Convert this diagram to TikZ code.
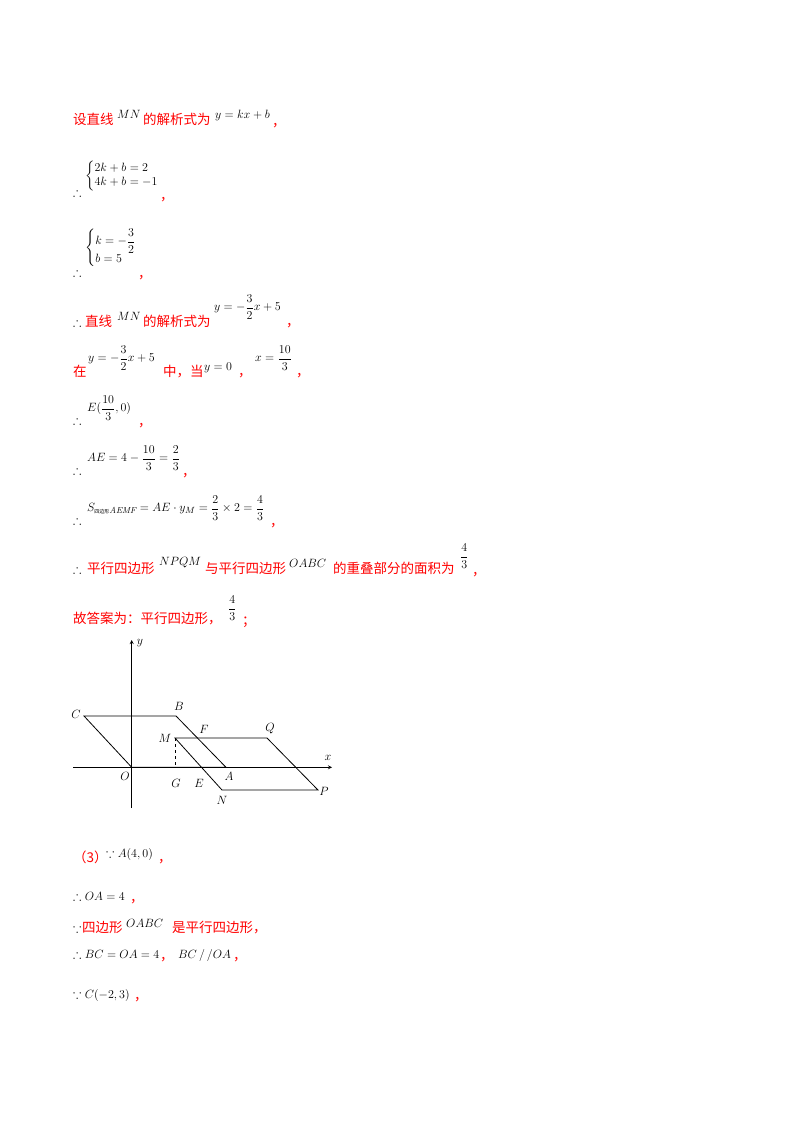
\documentclass[tikz,border=0pt]{standalone}
\usepackage{amsmath,amssymb}
\usepackage{fontspec}
\newfontfamily\cjk{Noto Sans CJK SC}
\begin{document}
\begin{tikzpicture}[x=1pt,y=-1pt,
  tx/.style={anchor=base west,inner sep=0pt,text=red,font=\cjk\fontsize{13.5}{15}\selectfont},
  mx/.style={anchor=base west,inner sep=0pt,text=black,font=\fontsize{12.5}{14}\selectfont},
  mc/.style={anchor=west,inner sep=0pt,text=black,font=\fontsize{12.5}{14}\selectfont},
  lbl/.style={inner sep=1pt,font=\fontsize{12.5}{14}\selectfont\itshape},
  ln/.style={line width=0.8pt}]
\useasboundingbox (0,0) rectangle (800,1132);
% line 1
\node[tx] (a1) at (73,124) {设直线};
\node[mx] (a2) at (117,118) {$MN$};
\node[tx] (a3) at (143,124) {的解析式为};
\node[mx] (a4) at (215,118) {$y=kx+b$};
\node[tx] (a5) at (272,126) {，};
% line 2
\node[mx] (b1) at (73,196) {$\therefore$};
\node[mc] (b2) at (85,176) {$\left\{\begin{array}{@{}l}2k+b=2\\4k+b=-1\end{array}\right.$};
\node[tx] (b3) at (160,200) {，};
% line 3
\node[mx] (c1) at (73,276) {$\therefore$};
\node[mc] (c2) at (85,248) {$\left\{\begin{array}{@{}l}k=-\dfrac32\\[2pt] b=5\end{array}\right.$};
\node[tx] (c3) at (138,278) {，};
% line 4
\node[mx] (d1) at (73,326) {$\therefore$};
\node[tx] (d2) at (85,326) {直线};
\node[mx] (d3) at (117,320) {$MN$};
\node[tx] (d4) at (143,326) {的解析式为};
\node[mc] (d5) at (214,307) {$y=-\dfrac32x+5$};
\node[tx] (d6) at (286,326) {，};
% line 5
\node[tx] (e1) at (73,376) {在};
\node[mc] (e2) at (88,358) {$y=-\dfrac32x+5$};
\node[tx] (e3) at (163,376) {中，当};
\node[mx] (e4) at (204,370) {$y=0$};
\node[tx] (e5) at (238,376) {，};
\node[mc] (e6) at (255,358) {$x=\dfrac{10}{3}$};
\node[tx] (e7) at (296,376) {，};
% line 6
\node[mx] (f1) at (73,424) {$\therefore$};
\node[mc] (f2) at (87,408) {$E(\dfrac{10}{3},0)$};
\node[tx] (f3) at (138,426) {，};
% line 7
\node[mx] (g1) at (73,474) {$\therefore$};
\node[mc] (g2) at (87,458) {$AE=4-\dfrac{10}{3}=\dfrac23$};
\node[tx] (g3) at (182,476) {，};
% line 8
\node[mx] (h1) at (73,524) {$\therefore$};
\node[mc] (h2) at (87,508) {$S_{\text{\cjk\tiny 四边形}\mathit{AEMF}}=AE\cdot y_M=\dfrac23\times2=\dfrac43$};
\node[tx] (h3) at (270,526) {，};
% line 9
\node[mx] (i0) at (73,573) {$\therefore$};
\node[tx] (i1) at (87,573) {平行四边形};
\node[mx] (i2) at (159,565) {$NPQM$};
\node[tx] (i3) at (205,573) {与平行四边形};
\node[mx] (i4) at (289,567) {$OABC$};
\node[tx] (i5) at (333,573) {的重叠部分的面积为};
\node[mc] (i6) at (460,556) {$\dfrac43$};
\node[tx] (i7) at (472,575) {，};
% line 10
\node[tx] (j1) at (73,623) {故答案为：平行四边形，};
\node[mc] (j2) at (228,608) {$\dfrac43$};
\node[tx] (j3) at (242,625) {；};
% figure
\coordinate (O) at (131.7,767.3);
\coordinate (xl) at (73,767.3);
\coordinate (xr) at (332,767.3);
\coordinate (yb) at (131.7,808);
\coordinate (yt) at (131.7,640);
\coordinate (C) at (84,716);
\coordinate (B) at (176,716);
\coordinate (A) at (226,767.3);
\coordinate (M) at (175,738);
\coordinate (Q) at (267,738);
\coordinate (P) at (318,790);
\coordinate (N) at (222,790);
\coordinate (G) at (175,767.3);
\draw[ln,-stealth] (xl) -- (xr);
\draw[ln,-stealth] (yb) -- (yt);
\draw[ln] (O) -- (A) -- (B) -- (C) -- cycle;
\draw[ln] (M) -- (Q) -- (P) -- (N) -- cycle;
\draw[dashed,line width=0.6pt] (M) -- (G);
\node[lbl] (ly) at (140,643) {$y$};
\node[lbl] (lx) at (328,758) {$x$};
\node[lbl] (lC) at (76,714) {$C$};
\node[lbl] (lB) at (179,706) {$B$};
\node[lbl] (lF) at (204,729) {$F$};
\node[lbl] (lQ) at (270,729) {$Q$};
\node[lbl] (lM) at (165,738) {$M$};
\node[lbl] (lO) at (125,776) {$O$};
\node[lbl] (lG) at (176,783) {$G$};
\node[lbl] (lE) at (199,783) {$E$};
\node[lbl] (lA) at (229,776) {$A$};
\node[lbl] (lN) at (222,800) {$N$};
\node[lbl] (lP) at (324,791) {$P$};
% line 11
\node[tx] (k1) at (73,862) {（3）};
\node[mx] (k2) at (106,857) {$\because A(4,0)$};
\node[tx] (k3) at (158,862) {，};
% line 12
\node[mx] (l1) at (73,900) {$\therefore OA=4$};
\node[tx] (l2) at (130,902) {，};
% line 13
\node[mx] (m1) at (73,932) {$\because$};
\node[tx] (m2) at (82,932) {四边形};
\node[mx] (m3) at (126,927) {$OABC$};
\node[tx] (m4) at (172,932) {是平行四边形，};
% line 14
\node[mx] (n1) at (73,958) {$\therefore BC=OA=4$};
\node[tx] (n2) at (160,960) {，};
\node[mx] (n3) at (178,958) {$BC\,/\,/OA$};
\node[tx] (n4) at (233,960) {，};
% line 15
\node[mx] (o1) at (73,998) {$\because C(-2,3)$};
\node[tx] (o2) at (134,1000) {，};
\end{tikzpicture}
\end{document}
